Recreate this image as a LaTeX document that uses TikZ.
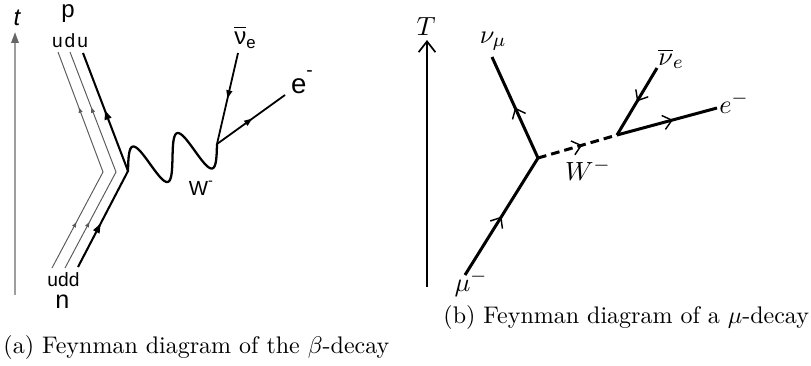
\documentclass[tikz,border=0pt]{standalone}
\usepackage{fontspec}
\newfontfamily\lsans{Liberation Sans}
\usetikzlibrary{arrows.meta,decorations.markings}
\tikzset{
  base lbl/.style={inner sep=0pt, outer sep=0pt, anchor=base},
  slbl/.style={base lbl, font=\lsans\fontsize{#1}{#1}\selectfont},
  mlbl/.style={base lbl, font=\fontsize{11}{13}\selectfont},
  caption/.style={inner sep=0pt, anchor=base west, font=\fontsize{10}{12}\selectfont},
  timeax/.style={draw=black!38, line width=0.8pt,
    -{Triangle[length=4.5pt,width=3pt,color=black!60]}},
  quark/.style={draw=black!65, line width=0.4pt, line join=miter},
  hquark/.style={draw=black, line width=0.85pt, line join=miter},
  lepton/.style={draw=black, line width=0.75pt},
  wave/.style={draw=black, line width=0.95pt, line join=round},
  twomarks/.style n args={3}{postaction={decorate}, decoration={markings,
      mark=at position #1 with {\arrow{#3}}, mark=at position #2 with {\arrow{#3}}}},
  onemark/.style 2 args={postaction={decorate}, decoration={markings,
      mark=at position #1 with {\arrow{#2}}}},
  rline/.style={draw=black, line width=1.25pt},
  rdash/.style={rline, dash pattern=on 3.6pt off 2.1pt},
  oarr/.style={onemark={#1}{Straight Barb[length=3.6pt,width=6pt,line width=0.6pt]}},
  raxis/.style={draw=black, line width=1.2pt,
    -{Straight Barb[length=4.5pt,width=7pt,line width=0.7pt]}}
}
\begin{document}
\begin{tikzpicture}[x=0.4167pt, y=-0.4167pt]
\useasboundingbox (0,0) rectangle (811,365);
% ---------------- (a) beta decay ----------------
\coordinate (ta0) at (15,295);
\coordinate (ta1) at (15,32);
\draw[timeax] (ta0) -- (ta1);
\node[slbl=10] (tl) at (17,25) {\itshape t};

\coordinate (q1b) at (52,268); \coordinate (q1m) at (103,172); \coordinate (q1t) at (58,52);
\coordinate (q2b) at (65,268); \coordinate (q2m) at (116,172); \coordinate (q2t) at (70,52);
\coordinate (q3b) at (78,267); \coordinate (Wa) at (128,171); \coordinate (q3t) at (83,53);
\coordinate (Wb) at (217,144);
\coordinate (nub) at (238,53);
\coordinate (eb) at (285,95);

\draw[quark, twomarks={0.22}{0.75}{Triangle[length=2.2pt,width=1.6pt]}] (q1b) -- (q1m) -- (q1t);
\draw[quark, twomarks={0.22}{0.75}{Triangle[length=2.2pt,width=1.6pt]}] (q2b) -- (q2m) -- (q2t);
\draw[hquark, twomarks={0.21}{0.74}{Triangle[length=4pt,width=2.8pt]}] (q3b) -- (Wa) -- (q3t);

% W boson: sine wave from (Wa) to (Wb)
\draw[wave] (Wa) -- plot[domain=0:1, samples=140, variable=\t]
   ({128+89*\t-6.5*sin(720*\t)},{171-27*\t-21*sin(720*\t)}) -- (Wb);

\draw[lepton, onemark={0.5}{Triangle[length=3.4pt,width=2.4pt]}] (nub) -- (Wb);
\draw[lepton, onemark={0.52}{Triangle[length=3.4pt,width=2.4pt]}] (Wb) -- (eb);

\node[slbl=10] (pl) at (68,17) {p};
\node[slbl=8] (udu) at (70,47) {u\hspace{0.8pt}d\hspace{0.8pt}u};
\node[slbl=8] (udd) at (63.5,286) {udd};
\node[slbl=10.5, text height=1.1ex] (nl) at (62.5,308) {n};
\node[slbl=10] (nuebl) at (245,44) {$\overline{\hbox{ν}}$\raisebox{-0.35ex}{\fontsize{7}{7}\selectfont e}};
\node[slbl=11.5] (el) at (302,93) {e\raisebox{1.1ex}{\fontsize{8}{8}\selectfont -}};
\node[slbl=8.5] (Wl) at (201,195) {W\raisebox{0.9ex}{\fontsize{6}{6}\selectfont -}};

% ---------------- (b) muon decay ----------------
\coordinate (Tb) at (427,287);
\coordinate (Tt) at (427,40);
\draw[raxis] (Tb) -- (Tt);
\node[mlbl] (Tl) at (426,35) {$T$};

\coordinate (mu) at (465,275);
\coordinate (V1) at (538,158);
\coordinate (numu) at (492,57);
\coordinate (V2) at (617,135);
\coordinate (nue) at (657,68);
\coordinate (ele) at (717,108);

\draw[rline, oarr=0.5] (mu) -- (V1);
\draw[rline, oarr=0.5] (V1) -- (numu);
\draw[rdash, oarr=0.56] (V1) -- (V2);
\draw[rline, oarr=0.5] (nue) -- (V2);
\draw[rline, oarr=0.56] (V2) -- (ele);

\node[mlbl] (numul) at (493,43) {$\nu_\mu$};
\node[mlbl] (mul) at (471,291) {$\mu^-$};
\node[mlbl] (Wml) at (588,180) {$W^-$};
\node[mlbl] (nuel) at (671,65) {$\overline{\nu}_e$};
\node[mlbl] (elel) at (734,113) {$e^-$};

% ---------------- captions ----------------
\node[caption] (capa) at (3,353) {(a) Feynman diagram of the $\beta$-decay};
\node[caption] (capb) at (443,323) {(b) Feynman diagram of a $\mu$-decay};
\end{tikzpicture}
\end{document}
